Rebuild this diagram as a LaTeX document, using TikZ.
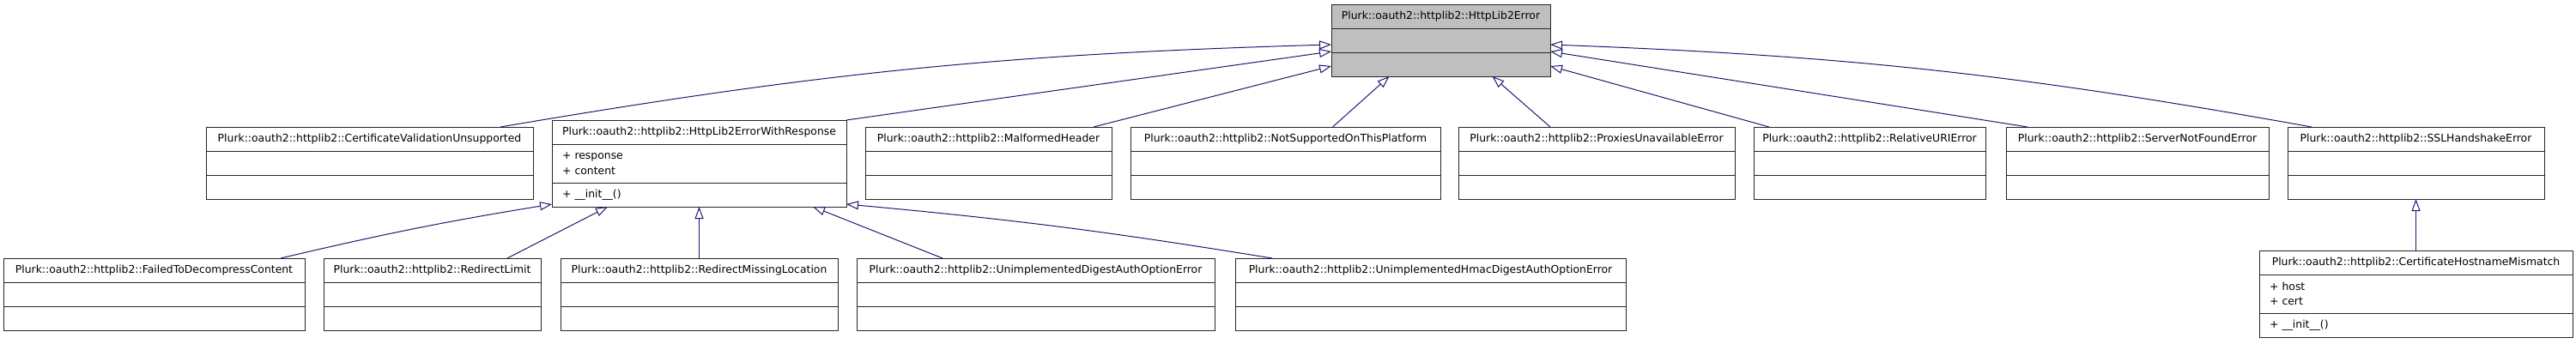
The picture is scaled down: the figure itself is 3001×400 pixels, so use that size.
\documentclass[tikz,border=0pt]{standalone}
\usepackage{fontspec}
\setmainfont{DejaVu Sans}
\usetikzlibrary{arrows.meta, positioning, calc}
\definecolor{EdgeBlue}{HTML}{191970}
\definecolor{RootFill}{HTML}{BFBFBF}
\newcommand{\umlclass}[5]{% name, top-left, width, title, fill
    \node[umltitle, fill=#5, minimum width=#3pt, anchor=north west] (#1) at (#2) {#4};
    \node[umlpart, fill=#5, minimum width=#3pt, anchor=north] (#1-attr) at (#1.south) {};
    \node[umlpart, fill=#5, minimum width=#3pt, anchor=north] (#1-meth) at (#1-attr.south) {};
}
\newcommand{\umlmembers}[6]{% name, top-left, width, title, attributes, methods
    \pgfmathsetmacro{\partwd}{#3-24}
    \node[umltitle, minimum width=#3pt, anchor=north west] (#1) at (#2) {#4};
    \node[umlpart, minimum height=45pt, text width=\partwd pt, inner xsep=12pt,
          align=left, anchor=north] (#1-attr) at (#1.south) {#5};
    \node[umlpart, text width=\partwd pt, inner xsep=12pt,
          align=left, anchor=north] (#1-meth) at (#1-attr.south) {#6};
}

\begin{document}
\begin{tikzpicture}[
    x=1pt, y=-1pt,
    umltitle/.style={draw=black!85, line width=0.9pt, fill=white, minimum height=28pt,
        inner sep=0pt, outer sep=0pt, font=\fontsize{12.4}{15}\selectfont},
    umlpart/.style={draw=black!85, line width=0.9pt, fill=white, minimum height=28pt,
        inner sep=0pt, outer sep=0pt, font=\fontsize{12.4}{17.7}\selectfont},
    inherit/.style={draw=EdgeBlue, line width=1pt,
        -{Triangle[open, length=14pt, width=10pt]}}
]
\useasboundingbox (0,0) rectangle (3001,400);

% ===================================================================
% BASE CLASS
% ===================================================================
\umlclass{root}{1551,5}{255}{Plurk::oauth2::httplib2::HttpLib2Error}{RootFill}

% ===================================================================
% FIRST LEVEL
% ===================================================================
\umlclass{cvu}{240,148}{381}{Plurk::oauth2::httplib2::CertificateValidationUnsupported}{white}
\umlmembers{hwr}{643,140}{343}{Plurk::oauth2::httplib2::HttpLib2ErrorWithResponse}
    {+ response\\+ content}{+ \_\_init\_\_()}
\umlclass{mh}{1008,148}{287}{Plurk::oauth2::httplib2::MalformedHeader}{white}
\umlclass{nsotp}{1317,148}{361}{Plurk::oauth2::httplib2::NotSupportedOnThisPlatform}{white}
\umlclass{pue}{1699,148}{322}{Plurk::oauth2::httplib2::ProxiesUnavailableError}{white}
\umlclass{rue}{2043,148}{270}{Plurk::oauth2::httplib2::RelativeURIError}{white}
\umlclass{snf}{2337,148}{306}{Plurk::oauth2::httplib2::ServerNotFoundError}{white}
\umlclass{ssl}{2665,148}{299}{Plurk::oauth2::httplib2::SSLHandshakeError}{white}

% ===================================================================
% SECOND LEVEL
% ===================================================================
\umlclass{ftdc}{4,301}{351}{Plurk::oauth2::httplib2::FailedToDecompressContent}{white}
\umlclass{rl}{377,301}{253}{Plurk::oauth2::httplib2::RedirectLimit}{white}
\umlclass{rml}{653,301}{323}{Plurk::oauth2::httplib2::RedirectMissingLocation}{white}
\umlclass{udaoe}{998,301}{417}{Plurk::oauth2::httplib2::UnimplementedDigestAuthOptionError}{white}
\umlclass{uhdaoe}{1439,301}{455}{Plurk::oauth2::httplib2::UnimplementedHmacDigestAuthOptionError}{white}
\umlmembers{chm}{2632,292}{365}{Plurk::oauth2::httplib2::CertificateHostnameMismatch}
    {+ host\\+ cert}{+ \_\_init\_\_()}

% ===================================================================
% INHERITANCE
% ===================================================================
% to the base class
\draw[inherit] ([xshift=-38pt]cvu.north east) to[bend left=4] ([yshift=-5pt]root-attr.west);
\draw[inherit] (hwr.north east) -- ([yshift=-13pt]root-attr.west);
\draw[inherit] ([xshift=-21pt]mh.north east) -- ([yshift=-2pt]root-meth.west);
\draw[inherit] ([xshift=55pt]nsotp.north) -- ([xshift=-60pt]root-meth.south);
\draw[inherit] ([xshift=-54pt]pue.north) -- ([xshift=60pt]root-meth.south);
\draw[inherit] ([xshift=18pt]rue.north west) -- ([yshift=-2pt]root-meth.east);
\draw[inherit] ([xshift=25pt]snf.north west) -- ([yshift=-13pt]root-attr.east);
\draw[inherit] ([xshift=28pt]ssl.north west) to[bend right=4] ([yshift=-5pt]root-attr.east);

% to HttpLib2ErrorWithResponse
\draw[inherit] ([xshift=-28pt]ftdc.north east) to[bend left=2] ([yshift=3pt]hwr-meth.south west);
\draw[inherit] ([xshift=-39pt]rl.north east) -- ([xshift=65pt]hwr-meth.south west);
\draw[inherit] (rml.north) -- (hwr-meth.south);
\draw[inherit] ([xshift=100pt]udaoe.north west) -- ([xshift=-39pt]hwr-meth.south east);
\draw[inherit] ([xshift=43pt]uhdaoe.north west) to[bend right=2] ([yshift=3pt]hwr-meth.south east);

% to SSLHandshakeError
\draw[inherit] (chm.north) -- (ssl-meth.south);

\end{tikzpicture}
\end{document}
